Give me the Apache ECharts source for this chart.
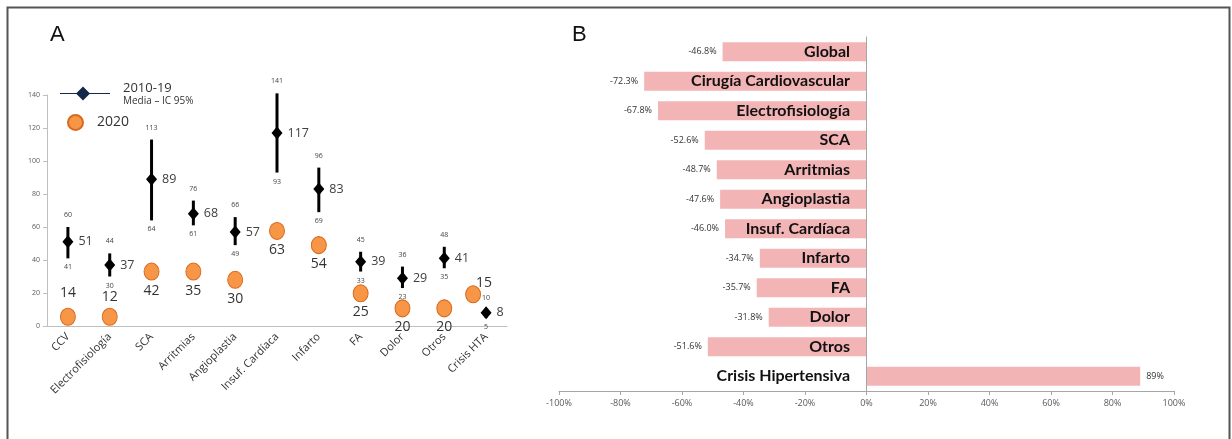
<!DOCTYPE html>
<html>
<head>
<meta charset="utf-8">
<script src="https://cdn.jsdelivr.net/npm/echarts@6/dist/echarts.min.js"></script>
<style>
  html, body { margin: 0; padding: 0; background: #fff; }
  #main { width: 1232px; height: 439px; }
</style>
</head>
<body>
<div id="main"></div>
<script>
// panel A
var catsA = ['CCV', 'Electrofisiología', 'SCA', 'Arritmias', 'Angioplastia', 'Insuf. Cardíaca', 'Infarto', 'FA', 'Dolor', 'Otros', 'Crisis HTA'];
var mean1019 = [51, 37, 89, 68, 57, 117, 83, 39, 29, 41, 8];
var ciLow = [41, 30, 64, 61, 49, 93, 69, 33, 23, 35, 5];
var ciHigh = [60, 44, 113, 76, 66, 141, 96, 45, 36, 48, 10];
// height at which each 2020 circle sits in the figure, and the number printed next to it
var pos2020 = [5.6, 5.6, 33, 33, 28, 57.6, 49, 19.8, 10.7, 10.7, 19.2];
var label2020 = [14, 12, 42, 35, 30, 63, 54, 25, 20, 20, 15];

// panel B
var catsB = ['Global', 'Cirugía Cardiovascular', 'Electrofisiología', 'SCA', 'Arritmias', 'Angioplastia', 'Insuf. Cardíaca', 'Infarto', 'FA', 'Dolor', 'Otros', 'Crisis Hipertensiva'];
var changeB = [-46.8, -72.3, -67.8, -52.6, -48.7, -47.6, -46.0, -34.7, -35.7, -31.8, -51.6, 89];

var ellipse = 'path://M0,10A10,10,0,1,1,20,10A10,10,0,1,1,0,10Z';
var lineDiamond = 'path://M0,6.5L50,6.5L50,7.5L0,7.5Z M23,0L30,7L23,14L16,7Z';
var orange = '#F79646';
var orangeBorder = '#D8691E';
var pink = '#F3B4B6';

var myChart = echarts.init(document.getElementById('main'));

var ciData = [];
for (var i = 0; i < catsA.length; i++) ciData.push([i, ciLow[i], ciHigh[i]]);

var meanData = [];
for (var i = 0; i < catsA.length; i++) meanData.push([i, mean1019[i]]);

var data2020 = [];
for (var i = 0; i < catsA.length; i++) {
    var item = {value: [i, pos2020[i]], label: {formatter: '' + label2020[i]}};
    if (i < 2) {
        item.label.position = 'top';
        item.label.distance = i == 0 ? 8 : 4;
    }
    if (i == catsA.length - 1) {
        item.symbolOffset = [-13, 0];
        item.label.position = 'right';
        item.label.offset = [-8, -11];
    }
    data2020.push(item);
}

var dataB = [];
for (var i = 0; i < catsB.length; i++) {
    dataB.push({
        value: changeB[i],
        label: {position: changeB[i] < 0 ? 'left' : 'right'}
    });
}

var option = {
    animation: false,
    textStyle: {fontFamily: 'Open Sans'},
    graphic: [
        {type: 'rect', shape: {x: 7.5, y: 7.5, width: 1222, height: 470}, style: {fill: 'none', stroke: '#555', lineWidth: 2}},
        {type: 'text', left: 50, top: 24, style: {text: 'A', font: '22px "Liberation Sans"', fill: '#111'}},
        {type: 'text', left: 572, top: 24, style: {text: 'B', font: '22px "Liberation Sans"', fill: '#111'}}
    ],
    legend: [
        {
            left: 60, top: 79, padding: 0,
            itemWidth: 50, itemHeight: 14, itemGap: 0,
            data: [{name: '2010-19', icon: lineDiamond, itemStyle: {color: '#14284b', opacity: 1}}],
            formatter: '{a|2010-19}\n{b|Media – IC 95%}',
            textStyle: {
                rich: {
                    a: {fontSize: 13, color: '#333', padding: [3, 0, 0, 8], lineHeight: 15},
                    b: {fontSize: 10, color: '#333', padding: [0, 0, 0, 8], lineHeight: 13}
                }
            }
        },
        {
            left: 67, top: 114, padding: 0,
            itemWidth: 15, itemHeight: 17,
            data: [{name: '2020', icon: ellipse}],
            textStyle: {fontSize: 14, color: '#333', padding: [0, 0, 0, 9]}
        }
    ],
    grid: [
        {left: 47, top: 95, width: 460, height: 231, outerBoundsMode: 'none'},
        {left: 559, top: 37, width: 615, height: 354, outerBoundsMode: 'none'}
    ],
    xAxis: [
        {
            gridIndex: 0,
            type: 'category',
            data: catsA,
            axisLine: {lineStyle: {color: '#BFBFBF'}},
            axisTick: {length: 4, lineStyle: {color: '#BFBFBF'}},
            axisLabel: {rotate: 45, fontSize: 11, color: '#333', margin: 9, interval: 0}
        },
        {
            gridIndex: 1,
            type: 'value',
            min: -100, max: 100, interval: 20,
            splitLine: {show: false},
            axisLine: {show: true, lineStyle: {color: '#A6A6A6'}},
            axisTick: {show: true, length: 4, lineStyle: {color: '#A6A6A6'}},
            axisLabel: {formatter: '{value}%', fontSize: 9, color: '#595959', margin: 8}
        }
    ],
    yAxis: [
        {
            gridIndex: 0,
            type: 'value',
            min: 0, max: 140, interval: 20,
            splitLine: {show: false},
            axisLine: {show: true, lineStyle: {color: '#BFBFBF'}},
            axisTick: {show: true, length: 4, lineStyle: {color: '#BFBFBF'}},
            axisLabel: {fontSize: 7, color: '#595959', margin: 7}
        },
        {
            gridIndex: 1,
            type: 'category',
            inverse: true,
            data: catsB,
            z: 5,
            axisLine: {onZero: true, lineStyle: {color: '#A6A6A6'}},
            axisTick: {length: 5, lineStyle: {color: '#A6A6A6'}},
            // names sit just left of the 0% line, over the bars
            axisLabel: {fontFamily: 'Lato', fontWeight: 'bold', fontSize: 16, color: '#111', margin: -291}
        }
    ],
    series: [
        {
            type: 'custom',
            xAxisIndex: 0, yAxisIndex: 0,
            z: 2,
            data: ciData,
            renderItem: function (params, api) {
                var top = api.coord([api.value(0), api.value(2)]);
                var bot = api.coord([api.value(0), api.value(1)]);
                return {
                    type: 'group',
                    children: [
                        {type: 'line', shape: {x1: top[0], y1: top[1], x2: bot[0], y2: bot[1]}, style: {stroke: '#000', lineWidth: 3}},
                        {type: 'text', x: top[0], y: top[1] - 12, style: {text: '' + api.value(2), fill: '#444', font: '7px "Open Sans"', align: 'center', verticalAlign: 'middle'}},
                        {type: 'text', x: bot[0], y: bot[1] + 9, style: {text: '' + api.value(1), fill: '#444', font: '7px "Open Sans"', align: 'center', verticalAlign: 'middle'}}
                    ]
                };
            }
        },
        {
            name: '2010-19',
            type: 'scatter',
            xAxisIndex: 0, yAxisIndex: 0,
            z: 3,
            symbol: 'diamond',
            symbolSize: [11, 13],
            itemStyle: {color: '#000', opacity: 1},
            label: {show: true, position: 'right', distance: 5, fontSize: 12.5, color: '#404040', formatter: function (p) { return p.value[1]; }},
            data: meanData
        },
        {
            name: '2020',
            type: 'scatter',
            xAxisIndex: 0, yAxisIndex: 0,
            z: 3,
            symbol: ellipse,
            symbolSize: [15, 17],
            itemStyle: {color: orange, borderColor: orangeBorder, borderWidth: 1, opacity: 1},
            label: {show: true, position: 'bottom', distance: 3, fontSize: 14, color: '#333'},
            data: data2020
        },
        {
            name: 'Cambio',
            type: 'bar',
            xAxisIndex: 1, yAxisIndex: 1,
            barWidth: 19,
            itemStyle: {color: pink},
            label: {
                show: true, distance: 6, fontSize: 9, color: '#333',
                formatter: function (p) { return p.value > 0 ? p.value + '%' : p.value.toFixed(1) + '%'; }
            },
            data: dataB
        }
    ]
};

myChart.setOption(option);
</script>
</body>
</html>
